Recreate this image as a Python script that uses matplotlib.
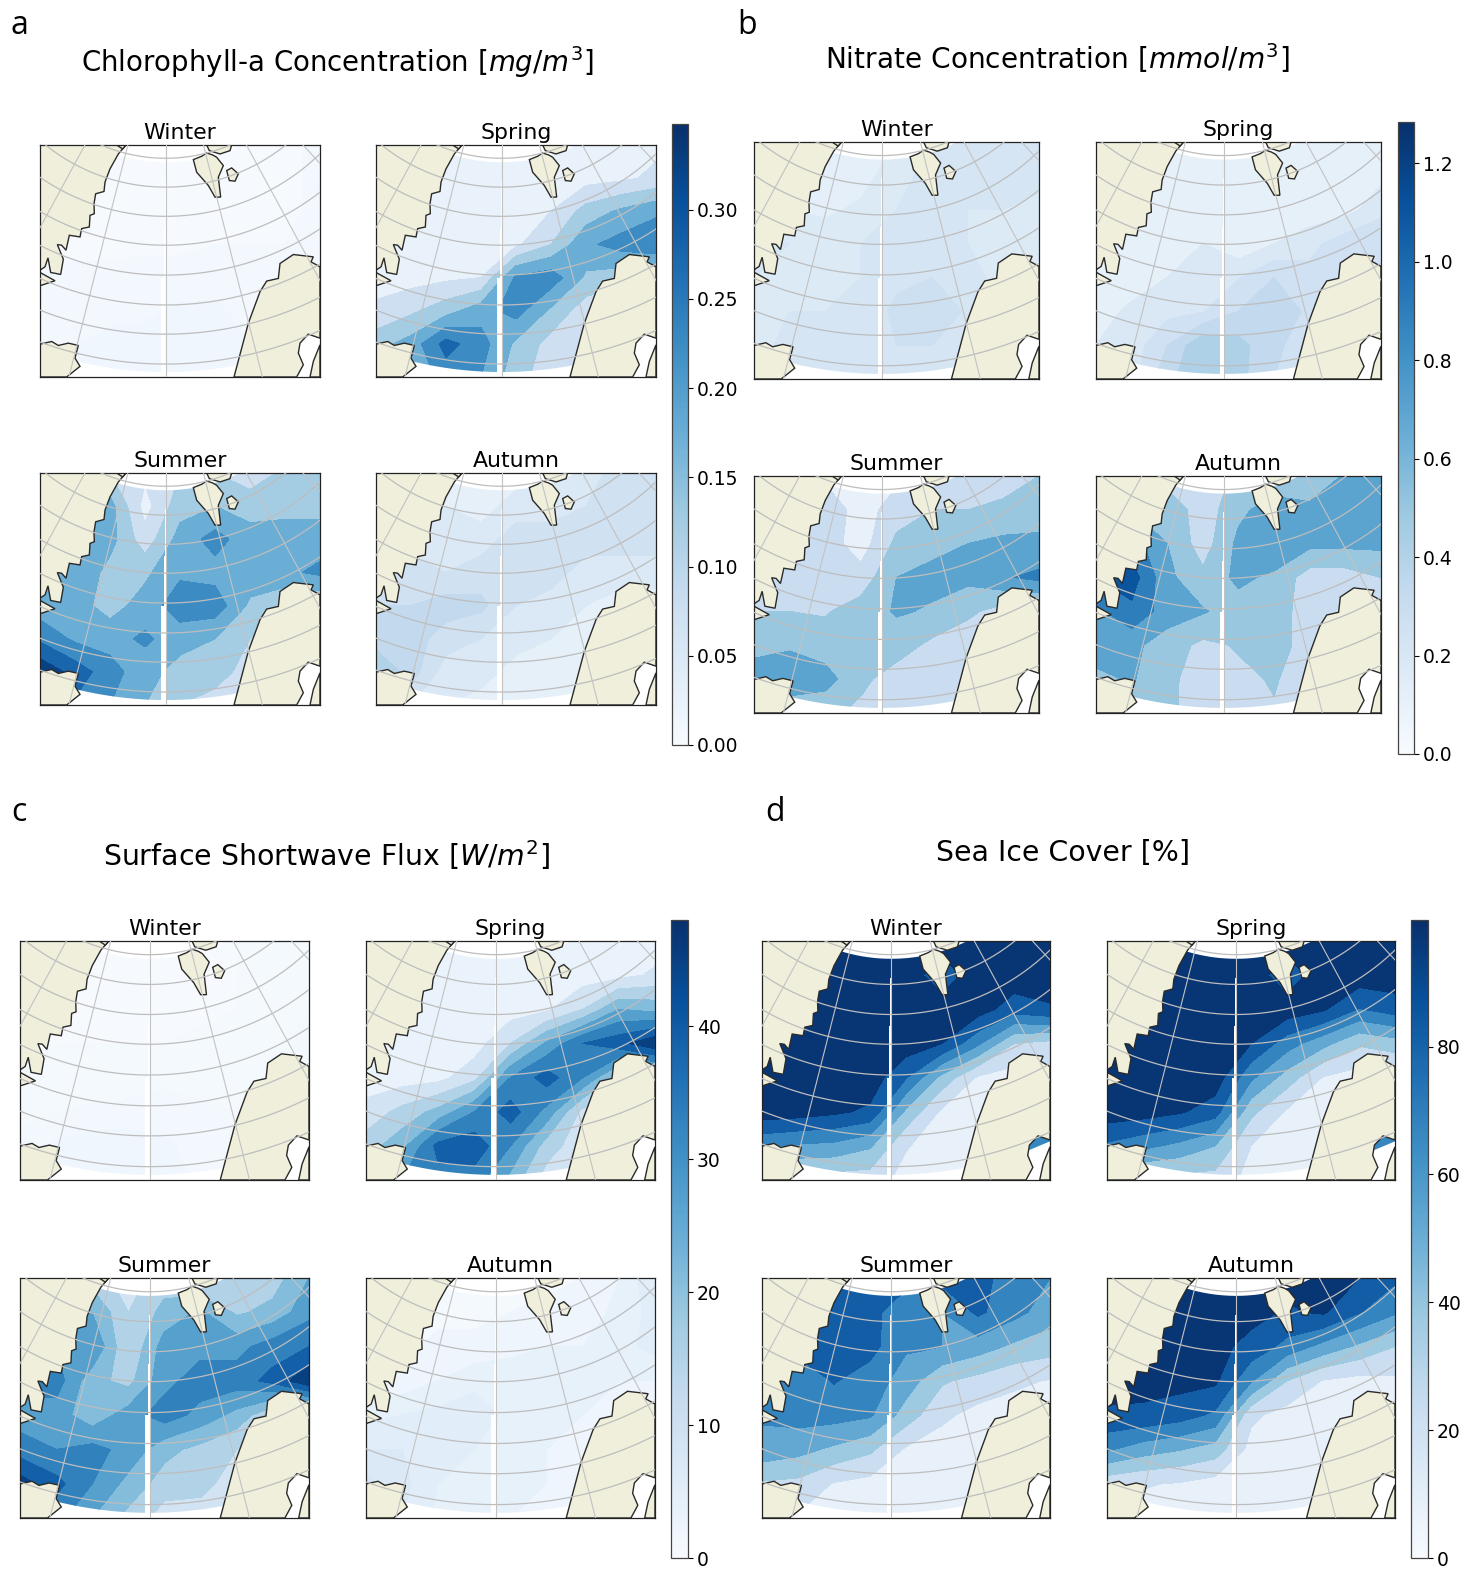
import numpy as np
import matplotlib
matplotlib.use("Agg")
import matplotlib.pyplot as plt
from matplotlib.cm import ScalarMappable
from matplotlib.colors import Normalize
from matplotlib.patches import Polygon

FIG_W, FIG_H = 1464, 1569
SEASONS = ["Winter", "Spring", "Summer", "Autumn"]

# grids, rows top to bottom, 9 columns left to right
CHL_WINTER = [
    [.003, .003, .003, .003, .003, .003, .004, .004, .006],
    [.003, .003, .003, .003, .003, .003, .004, .004, .006],
    [.003, .003, .003, .003, .003, .003, .004, .004, .006],
    [.004, .004, .004, .004, .004, .005, .005, .005, .006],
    [.006, .006, .006, .007, .007, .008, .006, .006, .008],
    [.006, .008, .008, .009, .011, .011, .008, .006, .006],
    [.008, .010, .012, .012, .012, .011, .010, .008, .008],
    [.008, .010, .012, .013, .013, .012, .010, .008, .008],
]
CHL_SPRING = [
    [.02, .02, .02, .02, .02, .02, .03, .03, .04],
    [.03, .03, .03, .03, .03, .03, .03, .04, .06],
    [.03, .03, .03, .03, .03, .05, .12, .16, .19],
    [.03, .03, .03, .03, .04, .10, .19, .22, .24],
    [.03, .03, .04, .05, .21, .23, .14, .12, .10],
    [.06, .09, .13, .18, .22, .14, .07, .05, .05],
    [.13, .17, .27, .22, .14, .08, .05, .05, .05],
    [.10, .16, .22, .20, .12, .07, .05, .05, .05],
]
CHL_SUMMER = [
    [.10, .10, .10, .06, .10, .10, .07, .11, .13],
    [.15, .15, .17, .03, .13, .15, .13, .13, .13],
    [.18, .18, .17, .07, .17, .22, .17, .18, .18],
    [.18, .20, .13, .14, .19, .18, .18, .19, .21],
    [.17, .17, .13, .17, .23, .23, .14, .10, .10],
    [.24, .19, .18, .21, .17, .15, .10, .05, .05],
    [.34, .28, .22, .17, .13, .12, .08, .05, .05],
    [.30, .24, .20, .15, .10, .08, .07, .05, .05],
]
CHL_AUTUMN = [
    [.04, .04, .04, .03, .03, .04, .05, .07, .08],
    [.04, .04, .04, .03, .05, .05, .06, .07, .08],
    [.05, .05, .05, .05, .07, .07, .07, .07, .07],
    [.07, .07, .06, .07, .07, .07, .05, .05, .05],
    [.08, .08, .09, .085, .06, .05, .04, .03, .03],
    [.09, .09, .07, .06, .05, .04, .03, .03, .03],
    [.12, .09, .05, .05, .03, .03, .03, .03, .03],
    [.08, .06, .04, .03, .03, .03, .03, .03, .03],
]

NO3_WINTER = [
    [.20, .15, .12, .12, .15, .20, .22, .25, .25],
    [.20, .15, .12, .13, .18, .22, .22, .25, .22],
    [.15, .15, .14, .16, .20, .22, .20, .20, .18],
    [.22, .20, .18, .20, .21, .21, .20, .18, .18],
    [.20, .20, .19, .20, .24, .25, .22, .18, .18],
    [.18, .20, .20, .22, .26, .30, .24, .20, .20],
    [.15, .24, .25, .22, .25, .25, .22, .20, .20],
    [.15, .22, .22, .22, .20, .20, .18, .18, .18],
]
NO3_SPRING = [
    [.08, .08, .08, .08, .08, .08, .08, .08, .15],
    [.08, .08, .08, .08, .08, .08, .08, .11, .13],
    [.08, .08, .08, .10, .08, .08, .10, .12, .20],
    [.08, .08, .15, .15, .09, .15, .20, .27, .30],
    [.08, .10, .15, .17, .22, .30, .25, .25, .25],
    [.11, .17, .20, .22, .30, .36, .28, .20, .20],
    [.15, .18, .30, .44, .40, .32, .25, .20, .20],
    [.15, .20, .35, .45, .40, .30, .22, .20, .20],
]
NO3_SUMMER = [
    [.10, .10, .15, .10, .15, .10, .25, .30, .40],
    [.30, .30, .35, .10, .30, .40, .40, .45, .50],
    [.35, .35, .30, .10, .45, .55, .60, .65, .65],
    [.40, .40, .25, .28, .60, .65, .65, .78, .85],
    [.40, .40, .38, .50, .62, .58, .45, .30, .30],
    [.55, .58, .50, .55, .50, .35, .25, .20, .20],
    [.68, .70, .68, .45, .30, .25, .20, .20, .20],
    [.50, .50, .45, .35, .25, .22, .20, .20, .20],
]
NO3_AUTUMN = [
    [.40, .40, .30, .25, .45, .45, .45, .62, .65],
    [.60, .60, .55, .28, .55, .70, .65, .65, .65],
    [.90, .90, .60, .30, .65, .80, .65, .65, .65],
    [1.0, 1.1, .65, .45, .65, .55, .30, .30, .40],
    [.75, .95, .70, .62, .50, .50, .30, .30, .30],
    [.70, .65, .50, .35, .42, .45, .35, .30, .30],
    [.55, .62, .45, .30, .35, .42, .28, .25, .25],
    [.50, .50, .45, .28, .35, .38, .30, .25, .25],
]

SW_WINTER = [
    [.4, .4, .4, .4, .4, .4, .5, .6, .8],
    [.4, .4, .4, .4, .4, .4, .5, .6, .9],
    [.4, .4, .4, .4, .4, .4, .5, .7, 1.0],
    [.5, .5, .5, .5, .5, .6, .7, .9, 1.2],
    [.6, .6, .7, .7, .9, .8, .8, .8, .8],
    [.8, 1.0, 1.1, 1.2, 1.2, 1.1, 1.0, 1.0, 1.0],
    [1.2, 1.6, 1.8, 1.8, 1.6, 1.3, 1.1, 1.0, 1.0],
    [1.4, 1.8, 2.0, 2.0, 1.7, 1.4, 1.1, 1.0, 1.0],
]
SW_SPRING = [
    [3, 3, 3, 3, 3, 3, 3, 3, 3],
    [3, 3, 3, 3, 3, 3, 3, 4, 7],
    [3, 3, 3, 3, 3, 5, 12, 24, 22],
    [3, 3, 3, 3, 12, 25, 36, 40, 47],
    [3, 3, 4, 10, 30, 39, 30, 15, 15],
    [8, 14, 20, 30, 39, 28, 10, 8, 8],
    [15, 22, 38, 40, 30, 15, 8, 8, 8],
    [21, 30, 34, 33, 22, 9, 8, 8, 8],
]
SW_SUMMER = [
    [15, 15, 15, 9, 15, 10, 12, 15, 24],
    [24, 24, 24, 12, 20, 25, 17, 20, 28],
    [30, 30, 30, 12, 27, 28, 28, 33, 36],
    [33, 33, 20, 16, 28, 33, 33, 38, 47],
    [27, 27, 20, 27, 33, 28, 22, 12, 10],
    [33, 30, 32, 28, 20, 16, 12, 10, 10],
    [45, 38, 30, 22, 15, 14, 9, 8, 8],
    [36, 32, 24, 16, 9, 9, 8, 8, 8],
]
SW_AUTUMN = [
    [1, 1, 1, 1, 1, 1, 1.5, 3, 6],
    [1, 1, 1, 1, 1.5, 2, 2, 3.5, 5],
    [1, 1, 2, 2, 2.5, 3, 3, 4, 5],
    [1.5, 2, 3, 4, 4, 4, 3.5, 3, 3],
    [4, 4.5, 5, 5.5, 4, 3.5, 3, 2, 2],
    [6, 6, 5, 4.5, 4, 3, 2.5, 2, 2],
    [8, 6.5, 4.5, 4, 3.5, 3, 2.5, 2, 2],
    [7, 6, 4, 3.5, 3, 2.5, 2, 2, 2],
]

ICE_WINTER = [
    [99, 99, 99, 99, 99, 99, 99, 99, 99],
    [99, 99, 99, 99, 99, 80, 99, 99, 99],
    [99, 99, 99, 99, 99, 99, 97, 82, 88],
    [99, 99, 99, 99, 99, 90, 63, 30, 25],
    [99, 99, 99, 99, 76, 40, 13, 8, 8],
    [99, 97, 93, 87, 42, 12, 8, 8, 8],
    [62, 58, 56, 47, 16, 8, 8, 8, 8],
    [24, 22, 22, 22, 10, 7, 7, 7, 7],
]
ICE_SPRING = [
    [99, 99, 99, 99, 99, 99, 99, 99, 99],
    [99, 99, 99, 99, 99, 80, 99, 99, 99],
    [99, 99, 99, 99, 99, 99, 92, 74, 82],
    [99, 99, 99, 99, 90, 67, 50, 32, 38],
    [99, 99, 99, 99, 63, 38, 14, 8, 8],
    [99, 97, 92, 82, 34, 13, 8, 8, 8],
    [72, 64, 56, 45, 15, 8, 8, 8, 8],
    [28, 24, 24, 24, 10, 7, 7, 7, 7],
]
ICE_SUMMER = [
    [80, 80, 80, 80, 80, 80, 80, 68, 60],
    [80, 80, 80, 80, 65, 60, 78, 65, 52],
    [80, 80, 82, 80, 62, 60, 52, 42, 37],
    [70, 65, 76, 68, 53, 32, 25, 18, 14],
    [62, 66, 66, 62, 38, 18, 10, 8, 8],
    [55, 50, 42, 33, 13, 8, 8, 8, 8],
    [28, 26, 14, 10, 8, 8, 8, 8, 8],
    [14, 13, 8, 8, 7, 7, 7, 7, 7],
]
ICE_AUTUMN = [
    [95, 95, 95, 95, 95, 95, 95, 90, 78],
    [95, 95, 95, 95, 95, 88, 92, 76, 62],
    [95, 95, 95, 95, 85, 70, 55, 42, 30],
    [95, 95, 95, 93, 62, 30, 14, 10, 12],
    [88, 87, 82, 72, 18, 9, 8, 8, 8],
    [62, 52, 46, 38, 10, 8, 8, 8, 8],
    [20, 16, 14, 9, 8, 8, 8, 8, 8],
    [10, 10, 8, 8, 7, 7, 7, 7, 7],
]
# ice left in the top of the Baltic, per season
ICE_BALTIC = [67, 67, None, None]
NO_BALTIC = [None, None, None, None]

# contour step of each season, colourbar top and ticks
CHL_STEPS = [.005, .05, .05, .02]
NO3_STEPS = [.05, .075, .2, .2]
SW_STEPS = [.5, 6, 6, 1.5]
ICE_STEPS = [15, 15, 15, 15]
CHL_TICKS = [0, .05, .10, .15, .20, .25, .30]
NO3_TICKS = [0, .2, .4, .6, .8, 1.0, 1.2]
SW_TICKS = [0, 10, 20, 30, 40]
ICE_TICKS = [0, 20, 40, 60, 80]

# coast outlines in map units, the map is 840 wide and 699 tall, y down
GREENLAND = [(258, 0), (235, 27), (210, 72), (195, 112), (192, 140), (167, 147), (162, 177),
             (163, 207), (150, 212), (148, 247), (125, 252), (120, 277), (88, 272), (78, 317),
             (65, 302), (52, 300), (70, 344), (62, 390), (32, 384), (24, 340), (15, 367),
             (0, 377), (0, 0)]
GREENLAND_TIP = [(0, 384), (45, 409), (0, 424)]
ICELAND = [(0, 600), (35, 592), (55, 604), (85, 597), (115, 604), (105, 642), (120, 667),
           (80, 699), (0, 699)]
NORWAY = [(582, 699), (625, 537), (660, 442), (680, 410), (715, 402), (720, 357), (760, 330),
          (820, 337), (813, 352), (840, 367), (840, 582), (805, 570), (780, 597), (775, 627),
          (790, 662), (770, 699)]
FINLAND = [(840, 602), (820, 652), (810, 699), (840, 699)]
BALTIC = [(840, 582), (805, 570), (780, 597), (775, 627), (790, 662), (770, 699), (810, 699),
          (820, 652), (840, 602)]
BALTIC_TOP = [(840, 582), (805, 570), (780, 597), (778, 612), (840, 586)]
SVALBARD = [(460, 44), (485, 34), (500, 24), (518, 30), (530, 37), (550, 62), (535, 97),
            (542, 157), (525, 157), (505, 122), (470, 82)]
SVALBARD_N = [(500, 0), (508, 17), (540, 27), (570, 17), (575, 0)]
EDGE_ISLAND = [(560, 77), (575, 69), (595, 87), (585, 109), (568, 107)]
GREENLAND_N = [(230, 0), (258, 0), (248, 12)]
LANDS = [GREENLAND, GREENLAND_TIP, GREENLAND_N, ICELAND, NORWAY, FINLAND, SVALBARD,
         SVALBARD_N, EDGE_ISLAND]

MAP_W, MAP_H = 840, 699
POLE = (377, -448)
R_TOP, R_BOTTOM = 500, 1132
PARALLELS = [488, 575, 663, 750, 840, 930, 1018, 1108]
MERIDIANS = [-42.6, -28.4, -14.2, 0, 14.2, 28.4, 42.6]
SEAM_Y = [107, 250, 400, 699]
SEAM_W = [3, 6, 13, 13]

grid_x = np.linspace(0, MAP_W, 9)
grid_y = np.linspace(0, MAP_H, 8)


def px_axes(fig, box):
    x0, y0, x1, y1 = box
    return fig.add_axes([x0 / FIG_W, 1 - y1 / FIG_H, (x1 - x0) / FIG_W, (y1 - y0) / FIG_H])


def polar(r, ang):
    a = np.radians(ang)
    return POLE[0] + r * np.sin(a), POLE[1] + r * np.cos(a)


def draw_map(ax, values, step, vmax, title, baltic):
    values = np.array(values, dtype=float)
    levels = step * np.arange(0, np.ceil(values.max() / step) + 1)
    cs = ax.contourf(grid_x, grid_y, values, levels=levels, cmap="Blues", vmin=0, vmax=vmax, zorder=1)

    # sea data only lives in the fan between the two arcs
    ang = np.linspace(-70, 70, 200)
    xo, yo = polar(R_BOTTOM, ang)
    xi, yi = polar(R_TOP, ang[::-1])
    fan = Polygon(np.column_stack([np.r_[xo, xi], np.r_[yo, yi]]), transform=ax.transData)
    cs.set_clip_path(fan)

    ax.fill_betweenx(SEAM_Y, POLE[0] - np.array(SEAM_W), POLE[0], step="post", color="white", lw=0, zorder=1.2)
    ax.add_patch(Polygon(BALTIC, fc="white", ec="none", zorder=1.5))
    if baltic is not None:
        ax.add_patch(Polygon(BALTIC_TOP, fc=plt.get_cmap("Blues")(baltic / vmax), ec="none", zorder=1.6))
    for land in LANDS:
        ax.add_patch(Polygon(land, fc="#efefdb", ec="#2a2a2a", lw=1.0, zorder=2))

    for r in PARALLELS:
        ang = np.linspace(-70, 70, 200)
        x, y = polar(r, ang)
        ax.plot(x, y, color="#bdbdbd", lw=0.9, zorder=3)
    for m in MERIDIANS:
        x, y = polar(np.array([300, 1500]), m)
        ax.plot(x, y, color="#c2c2c2", lw=0.8, zorder=3)

    ax.set_xlim(0, MAP_W)
    ax.set_ylim(MAP_H, 0)
    ax.set_xticks([])
    ax.set_yticks([])
    ax.set_title(title, fontsize=15.8, pad=4.5)
    for s in ax.spines.values():
        s.set_linewidth(0.9)
        s.set_color("#222222")


def draw_block(fig, grids, steps, vmax, boxes, cbar_box, ticks, fmt, baltic=NO_BALTIC):
    for season, values, step, box, ice in zip(SEASONS, grids, steps, boxes, baltic):
        draw_map(px_axes(fig, box), values, step, vmax, season, ice)
    cax = px_axes(fig, cbar_box)
    sm = ScalarMappable(norm=Normalize(0, vmax), cmap="Blues")
    cb = fig.colorbar(sm, cax=cax)
    cb.set_ticks(ticks)
    cb.set_ticklabels([fmt % t for t in ticks])
    cb.ax.tick_params(labelsize=13.5, length=3.5, width=0.8, pad=3)
    cb.outline.set_linewidth(0.9)
    cb.outline.set_edgecolor("#444444")


fig = plt.figure(figsize=(FIG_W / 100, FIG_H / 100), dpi=100)

draw_block(fig, [CHL_WINTER, CHL_SPRING, CHL_SUMMER, CHL_AUTUMN], CHL_STEPS, .348,
           [(40, 145, 320, 377), (376, 145, 656, 377), (40, 473, 320, 705), (376, 473, 656, 705)],
           (672, 124, 688, 745), CHL_TICKS, "%.2f")
draw_block(fig, [NO3_WINTER, NO3_SPRING, NO3_SUMMER, NO3_AUTUMN], NO3_STEPS, 1.284,
           [(754, 142, 1039, 379), (1096, 142, 1381, 379), (754, 476, 1039, 713), (1096, 476, 1381, 713)],
           (1398, 122, 1414, 754), NO3_TICKS, "%.1f")
draw_block(fig, [SW_WINTER, SW_SPRING, SW_SUMMER, SW_AUTUMN], SW_STEPS, 48,
           [(20, 941, 309, 1180), (366, 941, 655, 1180), (20, 1278, 309, 1518), (366, 1278, 655, 1518)],
           (671, 920, 688, 1558), SW_TICKS, "%d")
draw_block(fig, [ICE_WINTER, ICE_SPRING, ICE_SUMMER, ICE_AUTUMN], ICE_STEPS, 99.8,
           [(762, 941, 1050, 1180), (1107, 941, 1395, 1180), (762, 1278, 1050, 1518), (1107, 1278, 1395, 1518)],
           (1411, 920, 1428, 1558), ICE_TICKS, "%d", ICE_BALTIC)

titles = [("Chlorophyll-a Concentration [$mg/m^3$]", 337, 62, 19.9),
          ("Nitrate Concentration [$mmol/m^3$]", 1057, 58, 20.2),
          ("Surface Shortwave Flux [$W/m^2$]", 326, 855, 20.4),
          ("Sea Ice Cover [%]", 1063, 853, 20.4)]
for txt, x, y, size in titles:
    fig.text(x / FIG_W, 1 - y / FIG_H, txt, fontsize=size, ha="center", va="center")
letters = [("a", 19, 25), ("b", 747, 25), ("c", 19, 813), ("d", 775, 813)]
for txt, x, y in letters:
    fig.text(x / FIG_W, 1 - y / FIG_H, txt, fontsize=23, ha="center", va="center", family="Open Sans")

fig.savefig("out.png", dpi=100)
